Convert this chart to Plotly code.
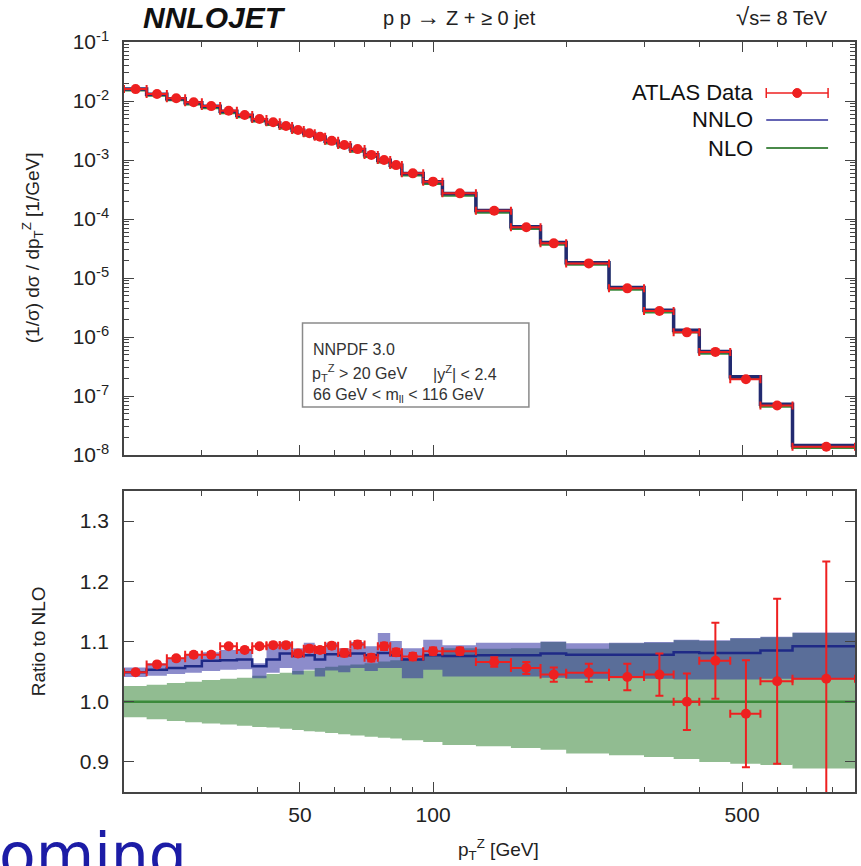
import math
import plotly.graph_objects as go

# ---------------- data ----------------
bin_edges = [20, 22.5, 25, 27.5, 30, 33, 36, 39, 42, 45, 48, 51, 54, 57, 61, 65, 70, 75, 80, 85,
             95, 105, 125, 150, 175, 200, 250, 300, 350, 400, 470, 550, 650, 900]

# normalised ATLAS data, 1/sigma dsigma/dpT [1/GeV]
atlas_xs = [1.59e-2, 1.315e-2, 1.11e-2, 9.5e-3, 8.2e-3, 6.85e-3, 5.8e-3, 4.95e-3, 4.35e-3, 3.77e-3,
            3.22e-3, 2.84e-3, 2.48e-3, 2.11e-3, 1.80e-3, 1.53e-3, 1.22e-3, 1.00e-3, 8.2e-4, 5.94e-4,
            4.3e-4, 2.72e-4, 1.38e-4, 7.23e-5, 3.87e-5, 1.77e-5, 6.68e-6, 2.76e-6, 1.2e-6, 5.6e-7,
            1.93e-7, 6.9e-8, 1.38e-8]

# ratio panel: data / NLO
atlas_ratio = [1.049, 1.062, 1.072, 1.078, 1.078, 1.092, 1.086, 1.092, 1.094, 1.094,
               1.080, 1.088, 1.086, 1.093, 1.081, 1.095, 1.073, 1.092, 1.082, 1.075,
               1.084, 1.084, 1.066, 1.056, 1.045, 1.048, 1.041, 1.045, 1.000, 1.068,
               0.980, 1.034, 1.038]
atlas_ratio_err = [0.004, 0.004, 0.004, 0.004, 0.004, 0.004, 0.004, 0.004, 0.004, 0.004,
                   0.005, 0.005, 0.005, 0.005, 0.006, 0.006, 0.006, 0.006, 0.006, 0.006,
                   0.006, 0.006, 0.008, 0.010, 0.012, 0.015, 0.022, 0.035, 0.047, 0.063,
                   0.089, 0.137, 0.195]

# NNLO / NLO central value and scale band
nnlo_ratio = [1.049, 1.053, 1.056, 1.059, 1.068, 1.069, 1.070, 1.059, 1.070, 1.080,
              1.076, 1.077, 1.070, 1.079, 1.077, 1.080, 1.077, 1.081, 1.077, 1.070,
              1.077, 1.076, 1.077, 1.077, 1.080, 1.078, 1.078, 1.078, 1.082, 1.081,
              1.081, 1.085, 1.092]
nnlo_band_hi = [1.057, 1.064, 1.073, 1.078, 1.082, 1.086, 1.087, 1.064, 1.092, 1.099,
                1.089, 1.098, 1.092, 1.098, 1.089, 1.099, 1.092, 1.114, 1.101, 1.089,
                1.103, 1.094, 1.098, 1.098, 1.100, 1.097, 1.098, 1.099, 1.103, 1.102,
                1.106, 1.108, 1.115]
nnlo_band_lo = [1.041, 1.043, 1.046, 1.048, 1.051, 1.053, 1.054, 1.039, 1.048, 1.056,
                1.045, 1.053, 1.042, 1.052, 1.049, 1.056, 1.051, 1.056, 1.056, 1.039,
                1.053, 1.042, 1.042, 1.042, 1.040, 1.038, 1.039, 1.038, 1.037, 1.037,
                1.037, 1.038, 1.037]

# NLO scale band (relative to NLO)
nlo_band_hi = [1.026, 1.028, 1.031, 1.033, 1.036, 1.038, 1.040, 1.043, 1.046, 1.048,
               1.051, 1.052, 1.056, 1.058, 1.060, 1.062, 1.064, 1.067, 1.069, 1.072,
               1.080, 1.089, 1.088, 1.089, 1.099, 1.088, 1.097, 1.098, 1.102, 1.101,
               1.105, 1.107, 1.114]
nlo_band_lo = [0.974, 0.971, 0.968, 0.966, 0.964, 0.962, 0.960, 0.958, 0.957, 0.955,
               0.953, 0.951, 0.950, 0.948, 0.946, 0.944, 0.942, 0.940, 0.939, 0.936,
               0.933, 0.928, 0.926, 0.923, 0.920, 0.914, 0.911, 0.908, 0.905, 0.900,
               0.897, 0.895, 0.889]

x_ticks = [50, 100, 500]
ratio_ticks = [0.9, 1.0, 1.1, 1.2, 1.3]
ylog_ticks = [1e-1, 1e-2, 1e-3, 1e-4, 1e-5, 1e-6, 1e-7, 1e-8]

# ---------------- derived quantities ----------------
lo_edges = bin_edges[:-1]
hi_edges = bin_edges[1:]
centers = [(a + b) / 2 for a, b in zip(lo_edges, hi_edges)]
# theory curves in the upper panel from data and ratios
nlo_xs = [d / r for d, r in zip(atlas_xs, atlas_ratio)]
nnlo_xs = [n * r for n, r in zip(nlo_xs, nnlo_ratio)]


def step(vals):
    return list(bin_edges), list(vals) + [vals[-1]]


def boxes(lo, hi):
    xs, ys = [], []
    for a, b, l, h in zip(lo_edges, hi_edges, lo, hi):
        xs += [a, b, b, a, a, None]
        ys += [l, l, h, h, l, None]
    return xs, ys


RED = "#ee2020"
NAVY = "#1f2a86"
GREEN_LINE = "#3b8a3b"
FONT = "Liberation Sans, Arial, sans-serif"

fig = go.Figure()

# ---- upper panel ----
sx, sy = step(nlo_xs)
fig.add_trace(go.Scatter(x=sx, y=sy, mode="lines", line=dict(color=GREEN_LINE, width=2.5, shape="hv"),
                         xaxis="x", yaxis="y", hoverinfo="skip"))
sx, sy = step(nnlo_xs)
fig.add_trace(go.Scatter(x=sx, y=sy, mode="lines", line=dict(color="#222a70", width=3.5, shape="hv"),
                         xaxis="x", yaxis="y", hoverinfo="skip"))
fig.add_trace(go.Scatter(
    x=centers, y=atlas_xs, mode="markers",
    marker=dict(color=RED, size=10, symbol="circle"),
    error_x=dict(type="data", symmetric=False,
                 array=[h - c for h, c in zip(hi_edges, centers)],
                 arrayminus=[c - l for l, c in zip(lo_edges, centers)],
                 color=RED, thickness=2, width=4),
    xaxis="x", yaxis="y"))

# ---- ratio panel ----
bx, by = boxes(nlo_band_lo, nlo_band_hi)
fig.add_trace(go.Scatter(x=bx, y=by, mode="lines", fill="toself", line=dict(width=0),
                         fillcolor="rgba(65,140,65,0.58)", xaxis="x2", yaxis="y2", hoverinfo="skip"))
bx, by = boxes(nnlo_band_lo, nnlo_band_hi)
fig.add_trace(go.Scatter(x=bx, y=by, mode="lines", fill="toself", line=dict(width=0),
                         fillcolor="rgba(45,45,160,0.55)", xaxis="x2", yaxis="y2", hoverinfo="skip"))
sx, sy = step([n / n for n in nlo_xs])
fig.add_trace(go.Scatter(x=sx, y=sy, mode="lines", line=dict(color=GREEN_LINE, width=2.5, shape="hv"),
                         xaxis="x2", yaxis="y2", hoverinfo="skip"))
sx, sy = step(nnlo_ratio)
fig.add_trace(go.Scatter(x=sx, y=sy, mode="lines", line=dict(color=NAVY, width=2.5, shape="hv"),
                         xaxis="x2", yaxis="y2", hoverinfo="skip"))
fig.add_trace(go.Scatter(
    x=centers, y=atlas_ratio, mode="markers",
    marker=dict(color=RED, size=10, symbol="circle"),
    error_x=dict(type="data", symmetric=False,
                 array=[h - c for h, c in zip(hi_edges, centers)],
                 arrayminus=[c - l for l, c in zip(lo_edges, centers)],
                 color=RED, thickness=2, width=4),
    error_y=dict(type="data", array=atlas_ratio_err, color=RED, thickness=2, width=4),
    xaxis="x2", yaxis="y2"))

# ---------------- axes ----------------
xminor = [30, 40, 60, 70, 80, 90, 200, 300, 400, 600, 700, 800]
yminor = [k * 10 ** (-n) for n in range(2, 9) for k in range(2, 10)]
xr = [math.log10(bin_edges[0]), math.log10(bin_edges[-1])]

axis_common = dict(showline=True, linecolor="#444", linewidth=1.5, mirror="ticks",
                   ticks="inside", ticklen=10, tickwidth=1.2, tickcolor="#444",
                   showgrid=False, zeroline=False,
                   tickfont=dict(family=FONT, size=21, color="#222"))

fig.update_layout(
    width=861, height=866,
    margin=dict(l=124, r=4, t=42, b=74),
    paper_bgcolor="white", plot_bgcolor="white",
    showlegend=False,
    font=dict(family=FONT, color="#222"),
    xaxis=dict(type="log", range=xr, domain=[0, 1], anchor="y",
               tickvals=x_ticks, showticklabels=False,
               minor=dict(tickvals=xminor, ticks="inside", ticklen=5, tickcolor="#444", showgrid=False),
               **axis_common),
    yaxis=dict(type="log", range=[-8, -1], domain=[0.4493, 1.0], anchor="x",
               tickvals=ylog_ticks,
               ticktext=["10<sup>-%d</sup>" % round(-math.log10(v)) for v in ylog_ticks],
               minor=dict(tickvals=yminor, ticks="inside", ticklen=5, tickcolor="#444", showgrid=False),
               ticklabelstandoff=9,
               **axis_common),
    xaxis2=dict(type="log", range=xr, domain=[0, 1], anchor="y2", matches="x",
                tickvals=x_ticks, ticktext=[str(v) for v in x_ticks],
                minor=dict(tickvals=xminor, ticks="inside", ticklen=5, tickcolor="#444", showgrid=False),
                ticklabelstandoff=3,
                **axis_common),
    yaxis2=dict(range=[0.85, 1.35], domain=[0, 0.4013], anchor="x2",
                tickvals=ratio_ticks, ticktext=["%.1f" % v for v in ratio_ticks],
                ticklabelstandoff=9,
                **axis_common),
)

# ---------------- text ----------------
def px(x):
    return (x - 124) / 733.0


def py(y):
    return (792 - y) / 750.0


ann = []
ann.append(dict(x=px(215), y=py(18), text="<b><i>NNLOJET</i></b>", font=dict(family=FONT, size=30, color="#111")))
ann.append(dict(x=px(460), y=py(17),
                text="p p <span style='font-size:24px'>→</span> Z + ≥ 0 jet",
                font=dict(family=FONT, size=20, color="#222")))
ann.append(dict(x=px(784), y=py(17), text="<span style='font-size:24px'>√</span>s= 8 TeV",
                font=dict(family=FONT, size=20, color="#222")))
ann.append(dict(x=px(33), y=py(248), text="(1/σ) dσ / dp<sub>T</sub><sup>Z</sup> [1/GeV]", textangle=-90,
                font=dict(family=FONT, size=19, color="#222")))
ann.append(dict(x=px(38), y=py(641), text="Ratio to NLO", textangle=-90, font=dict(family=FONT, size=19, color="#222")))
ann.append(dict(x=px(500), y=py(850), text="p<sub>T</sub><sup>Z</sup> [GeV]", font=dict(family=FONT, size=19, color="#222")))
# legend texts
for label, yy in [("ATLAS Data", 93), ("NNLO", 120), ("NLO", 148)]:
    ann.append(dict(x=px(757), y=py(yy), text=label, xanchor="right", font=dict(family=FONT, size=22, color="#111")))
# info box texts
ann.append(dict(x=px(312), y=py(350), text="NNPDF 3.0", xanchor="left", font=dict(family=FONT, size=16, color="#333")))
ann.append(dict(x=px(311), y=py(373), text="p<sub>T</sub><sup>Z</sup> > 20 GeV", xanchor="left", font=dict(family=FONT, size=16, color="#333")))
ann.append(dict(x=px(432), y=py(373), text="|y<sup>Z</sup>| < 2.4", xanchor="left", font=dict(family=FONT, size=16, color="#333")))
ann.append(dict(x=px(312), y=py(395), text="66 GeV < m<sub>ll</sub> < 116 GeV", xanchor="left", font=dict(family=FONT, size=16, color="#333")))
# slide remnant text at bottom-left (cut by the picture edge, as in the reference)
ann.append(dict(x=px(-3), y=py(818), text="oming", xanchor="left", yanchor="top",
                font=dict(family="DejaVu Sans, sans-serif", size=60, color="#1c1ca6")))

for a in ann:
    a.setdefault("xref", "paper")
    a.setdefault("yref", "paper")
    a.setdefault("showarrow", False)
    a.setdefault("xanchor", "center")
    a.setdefault("yanchor", "middle")
fig.update_layout(annotations=ann)

# legend symbols and info box as paper shapes
shapes = []
lx0, lx1 = px(768), px(830)
ymid = py(93)
shapes.append(dict(type="line", xref="paper", yref="paper", x0=lx0, x1=lx1, y0=ymid, y1=ymid, line=dict(color=RED, width=1.5)))
for xx in (lx0, lx1):
    shapes.append(dict(type="line", xref="paper", yref="paper", x0=xx, x1=xx, y0=ymid - 5 / 750, y1=ymid + 5 / 750,
                       line=dict(color=RED, width=1.5)))
cx = (lx0 + lx1) / 2
shapes.append(dict(type="circle", xref="paper", yref="paper", x0=cx - 4.5 / 733, x1=cx + 4.5 / 733,
                   y0=ymid - 4.5 / 750, y1=ymid + 4.5 / 750, fillcolor=RED, line=dict(color=RED, width=1)))
shapes.append(dict(type="line", xref="paper", yref="paper", x0=lx0, x1=lx1, y0=py(120), y1=py(120),
                   line=dict(color="#6464b4", width=1.8)))
shapes.append(dict(type="line", xref="paper", yref="paper", x0=lx0, x1=lx1, y0=py(148), y1=py(148),
                   line=dict(color="#4a8a4a", width=1.8)))
shapes.append(dict(type="rect", xref="paper", yref="paper", x0=px(303), x1=px(530), y0=py(407), y1=py(323),
                   line=dict(color="#8a8a8a", width=1.5), fillcolor="rgba(255,255,255,0)"))
fig.update_layout(shapes=shapes)

fig.write_html("out.html")
